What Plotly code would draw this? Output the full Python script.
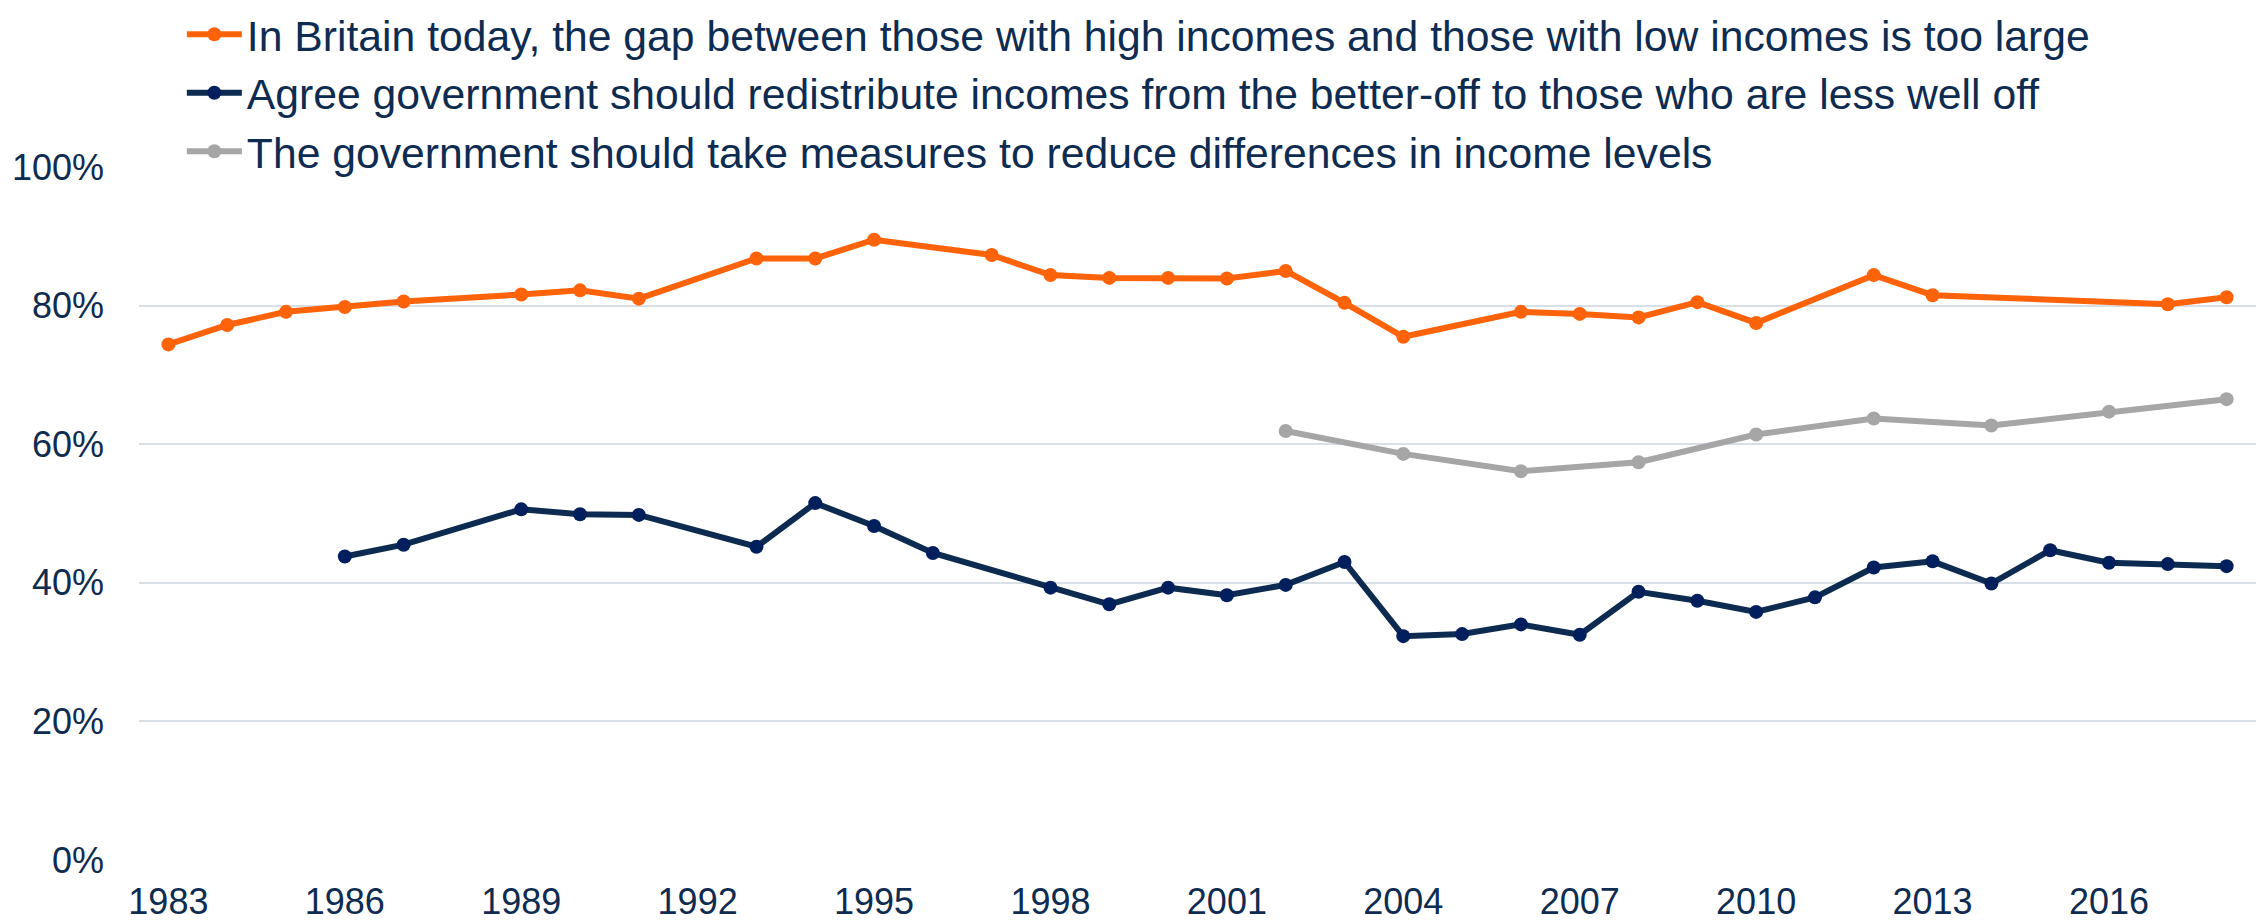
import plotly.graph_objects as go

# Survey years and percentages for each attitude question
gap_years = [1983, 1984, 1985, 1986, 1987, 1989, 1990, 1991, 1993, 1994, 1995, 1997,
             1998, 1999, 2000, 2001, 2002, 2003, 2004, 2006, 2007, 2008, 2009, 2010,
             2012, 2013, 2017, 2018]
gap_values = [74.4, 77.2, 79.1, 79.8, 80.6, 81.6, 82.2, 81.0, 86.8, 86.8, 89.5, 87.3,
              84.4, 84.0, 84.0, 83.9, 85.0, 80.4, 75.5, 79.1, 78.8, 78.3, 80.5, 77.5,
              84.4, 81.5, 80.2, 81.2]

redistribute_years = [1986, 1987, 1989, 1990, 1991, 1993, 1994, 1995, 1996, 1998, 1999,
                      2000, 2001, 2002, 2003, 2004, 2005, 2006, 2007, 2008, 2009, 2010,
                      2011, 2012, 2013, 2014, 2015, 2016, 2017, 2018]
redistribute_values = [43.8, 45.5, 50.6, 49.9, 49.8, 45.2, 51.5, 48.2, 44.3, 39.3, 36.9,
                       39.3, 38.2, 39.7, 43.0, 32.3, 32.6, 34.0, 32.5, 38.7, 37.4, 35.8,
                       37.9, 42.2, 43.1, 39.9, 44.7, 42.9, 42.7, 42.4]

reduce_years = [2002, 2004, 2006, 2008, 2010, 2012, 2014, 2016, 2018]
reduce_values = [61.9, 58.6, 56.1, 57.4, 61.4, 63.7, 62.7, 64.7, 66.5]

series_names = [
    "In Britain today, the gap between those with high incomes and those with low incomes is too large",
    "Agree government should redistribute incomes from the better-off to those who are less well off",
    "The government should take measures to reduce differences in income levels",
]

x_tick_years = [1983, 1986, 1989, 1992, 1995, 1998, 2001, 2004, 2007, 2010, 2013, 2016]
y_tick_values = [0, 20, 40, 60, 80, 100]

TEXT = "#0E2C51"
FONT = "Liberation Sans, Arial, sans-serif"
LINE_W = 6
MARK_S = 14

fig = go.Figure()
fig.add_trace(go.Scatter(
    x=gap_years, y=gap_values, name=series_names[0], mode="lines+markers",
    legendgroup="gap",
    line=dict(color="#FF6309", width=LINE_W),
    marker=dict(color="#FF6309", size=MARK_S),
))
fig.add_trace(go.Scatter(
    x=redistribute_years, y=redistribute_values, name=series_names[1], mode="lines+markers",
    legendgroup="redistribute",
    line=dict(color="#0D2B50", width=LINE_W),
    marker=dict(color="#001F5C", size=MARK_S),
))
fig.add_trace(go.Scatter(
    x=reduce_years, y=reduce_values, name=series_names[2], mode="lines+markers",
    legendgroup="reduce",
    line=dict(color="#A6A6A6", width=LINE_W),
    marker=dict(color="#A6A6A6", size=MARK_S),
))

fig.update_layout(
    width=2259, height=921,
    margin=dict(l=139, r=3, t=167, b=61, autoexpand=False),
    paper_bgcolor="white", plot_bgcolor="white",
    font=dict(family=FONT, color=TEXT, size=36),
    showlegend=True,
    legend=dict(
        xref="container", yref="container", x=0.0805, y=1.025,
        xanchor="left", yanchor="top",
        font=dict(size=42.7, color=TEXT),
        bgcolor="rgba(0,0,0,0)", itemwidth=55,
        tracegroupgap=0,
    ),
)
fig.update_xaxes(
    range=[1982.5, 2018.5], tickmode="array", tickvals=x_tick_years,
    ticktext=[str(y) for y in x_tick_years],
    showgrid=False, zeroline=False, showline=False,
    tickfont=dict(size=36, color=TEXT), ticklabelstandoff=17,
)
fig.update_yaxes(
    range=[0, 100], tickmode="array", tickvals=y_tick_values,
    ticktext=[f"{v}%" for v in y_tick_values],
    showgrid=True, gridcolor="#D9DFE7", gridwidth=2,
    zeroline=False, showline=False,
    tickfont=dict(size=36, color=TEXT), ticklabelstandoff=34,
)

fig.write_html("out.html")
